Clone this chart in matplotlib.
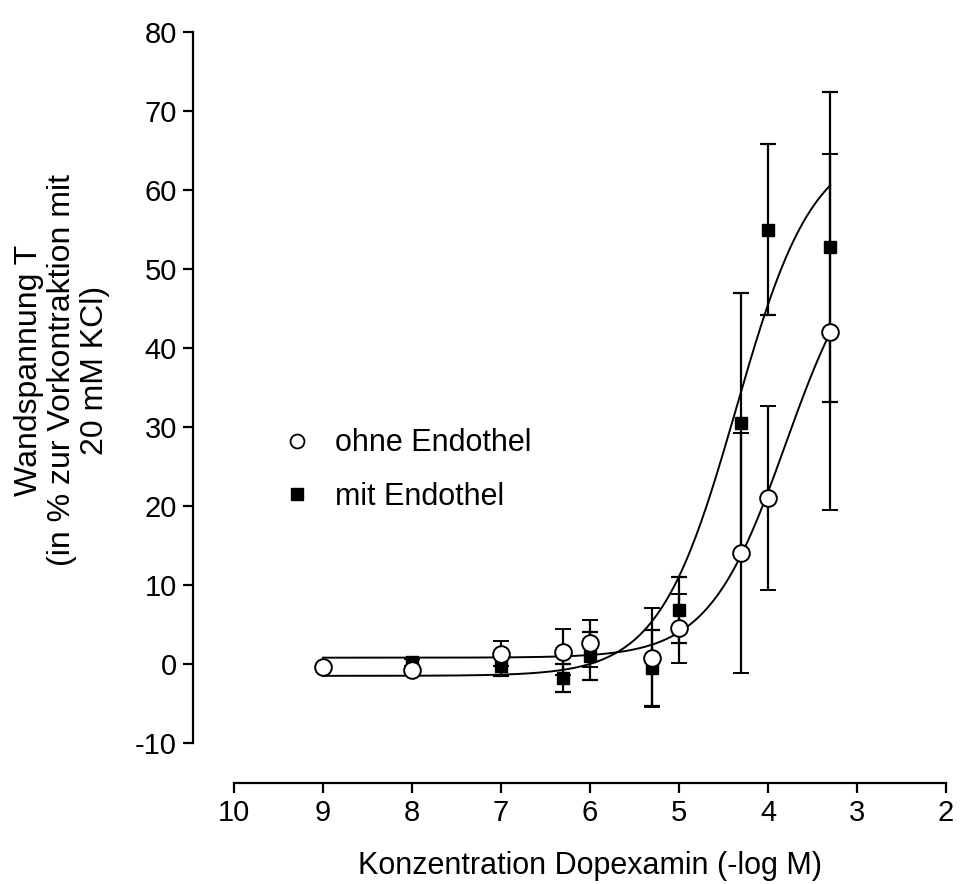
import numpy as np
import matplotlib
matplotlib.use('Agg')
import matplotlib.pyplot as plt
from matplotlib.lines import Line2D

plt.rcParams['font.family'] = ['Liberation Sans', 'DejaVu Sans']
plt.rcParams['axes.unicode_minus'] = False

# Daten: ohne Endothel (offene Kreise)
x_ohne = [9, 8, 7, 6.3, 6, 5.3, 5, 4.3, 4, 3.3]
y_ohne = [-0.4, -0.8, 1.3, 1.5, 2.6, 0.8, 4.5, 14.0, 21.0, 42.0]
e_ohne = [0.0, 0.0, 1.6, 2.9, 3.0, 6.3, 4.4, 15.2, 11.6, 22.5]

# Daten: mit Endothel (gefuellte Quadrate)
x_mit = [8, 7, 6.3, 6, 5.3, 5, 4.3, 4, 3.3]
y_mit = [0.2, -0.2, -1.8, 1.0, -0.5, 6.8, 30.5, 55.0, 52.8]
e_mit = [0.4, 1.3, 1.8, 3.0, 4.8, 4.2, 16.5, 10.8, 19.6]

# Sigmoidale Anpassung (unten, oben, logEC50, Hill)
fit_ohne = (0.8, 55.0, -3.80, 1.0)
fit_mit = (-1.5, 66.0, -4.36, 1.0)


def sigmoid(xx, p):
    b, t, ec, h = p
    return b + (t - b) / (1 + 10 ** ((ec + xx) * h))


fig = plt.figure(figsize=(9.64, 8.84), dpi=100)
ax = fig.add_axes([234 / 964, 1 - 743 / 884, (946 - 234) / 964, (743 - 32) / 884])

xs = np.linspace(9, 3.3, 300)
ax.plot(xs, sigmoid(xs, fit_ohne), color='black', lw=1.4, zorder=2)
ax.plot(xs, sigmoid(xs, fit_mit), color='black', lw=1.4, zorder=2)

ax.errorbar(x_mit, y_mit, yerr=e_mit, fmt='s', color='black', mfc='black', mec='black',
            ms=9, elinewidth=1.6, capsize=6, capthick=1.6, zorder=3)
ax.errorbar(x_ohne, y_ohne, yerr=e_ohne, fmt='o', color='black', mfc='white', mec='black',
            ms=12, mew=1.4, elinewidth=1.6, capsize=6, capthick=1.6, zorder=4)

ax.set_xlim(10, 2)
ax.set_ylim(-10, 80)
ax.set_xticks([10, 9, 8, 7, 6, 5, 4, 3, 2])
ax.set_yticks(np.arange(-10, 81, 10))

for s in ['top', 'right']:
    ax.spines[s].set_visible(False)
ax.spines['left'].set_position(('outward', 29.5))
ax.spines['bottom'].set_position(('outward', 29))
for s in ['left', 'bottom']:
    ax.spines[s].set_linewidth(1.6)
ax.tick_params(axis='both', direction='out', length=7.5, width=1.6, labelsize=21, pad=4)

ax.set_xlabel('Konzentration Dopexamin (-log M)', fontsize=22, labelpad=17)
fig.text(62 / 964, 1 - 370 / 884, 'Wandspannung T\n(in % zur Vorkontraktion mit\n20 mM KCl)',
         rotation=90, ha='center', va='center', multialignment='center', fontsize=23,
         linespacing=1.15)

handles = [Line2D([], [], ls='none', marker='o', ms=10, mfc='white', mec='black', mew=1.3),
           Line2D([], [], ls='none', marker='s', ms=8, mfc='black', mec='black')]
ax.legend(handles, ['ohne Endothel', 'mit Endothel'], loc='center left',
          bbox_to_anchor=(254 / 964, 1 - 470 / 884), bbox_transform=fig.transFigure,
          frameon=False, fontsize=22, handlelength=1.0, handletextpad=0.74, labelspacing=0.77)

fig.savefig('out.png', dpi=100, facecolor='white')
